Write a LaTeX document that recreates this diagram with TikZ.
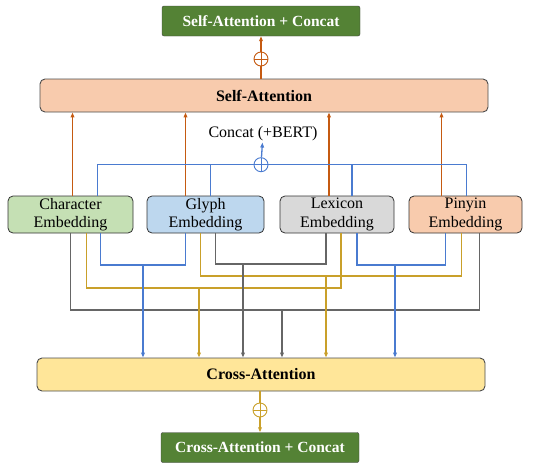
\documentclass[tikz,border=0pt]{standalone}
\usepackage{fontspec}
\setmainfont{Liberation Serif}
\usepackage{xcolor}
\usetikzlibrary{arrows.meta, positioning, calc}
\definecolor{saorange}{HTML}{C55A11}
\definecolor{cablue}{HTML}{4A7BD0}
\definecolor{cagold}{HTML}{C9A02A}
\definecolor{cagray}{HTML}{666666}
\definecolor{boxgreen}{HTML}{548235}
\definecolor{charbg}{HTML}{C5E0B4}
\definecolor{glyphbg}{HTML}{BDD7EE}
\definecolor{lexbg}{HTML}{D9D9D9}
\definecolor{pinbg}{HTML}{F8CBAD}
\definecolor{crossbg}{HTML}{FFE699}

\begin{document}
\begin{tikzpicture}[x=1pt, y=-1pt,
      font=\fontsize{16}{18.5}\selectfont,
      outbox/.style={draw=black!75, fill=boxgreen, rounded corners=2pt,
        minimum width=198pt, minimum height=30pt, inner sep=0pt,
        text=white, font=\fontsize{15.5}{18}\selectfont\bfseries},
      attbox/.style={draw=black!70, rounded corners=5pt, line width=0.9pt,
        minimum width=448pt, minimum height=33pt, inner sep=0pt,
        font=\fontsize{16}{18}\selectfont\bfseries},
      embbox/.style={draw=black!80, rounded corners=5pt, line width=0.8pt,
        minimum height=37pt, inner sep=0pt, align=center},
      oplus/.style={circle, draw, line width=0.9pt, minimum size=14pt, inner sep=0pt,
        path picture={\draw[line width=0.9pt]
          (path picture bounding box.north) -- (path picture bounding box.south)
          (path picture bounding box.west) -- (path picture bounding box.east);}},
      tip/.style={-{Triangle[length=5pt,width=3.6pt]}},
      saline/.style={saorange, line width=1.3pt},
      blline/.style={cablue, line width=1.3pt},
      goline/.style={cagold, line width=1.3pt},
      grline/.style={cagray, line width=1.3pt}
    ]
      \useasboundingbox (0,0) rectangle (545,463);
      % boxes
      \node[outbox] (satop) at (261,21) {Self-Attention + Concat};
      \node[attbox, fill=pinbg] (selfatt) at (264,95.5) {Self-Attention};
      \node[inner sep=1pt] (concat) at (263,134) {Concat (+BERT)};
      \node[embbox, fill=charbg, minimum width=125pt] (char) at (70.5,214.5) {Character\\Embedding};
      \node[embbox, fill=glyphbg, minimum width=117pt] (glyph) at (205.5,214.5) {Glyph\\Embedding};
      \node[embbox, fill=lexbg, minimum width=114pt] (lex) at (337,214.5) {Lexicon\\Embedding};
      \node[embbox, fill=pinbg, minimum width=113pt] (pin) at (465.5,214.5) {Pinyin\\Embedding};
      \node[attbox, fill=crossbg] (crossatt) at (261,374.5) {Cross-Attention};
      \node[outbox] (catop) at (260,447.5) {Cross-Attention + Concat};
      \node[oplus, saorange] (plusa) at (261,59) {};
      \node[oplus, cablue] (plusb) at (261,164.7) {};
      \node[oplus, cagold] (plusc) at (260,410) {};

      % self-attention side
      \draw[saline] (selfatt.north -| plusa) -- (plusa);
      \draw[saline, tip] (plusa) -- (satop);
      \foreach \n/\dx in {char/2, glyph/-20, lex/-8, pin/-24}
        \draw[saline, tip] ([xshift=\dx]\n.north) -- ([xshift=\dx]\n.north |- selfatt.south);
      \draw[blline] ([xshift=27]char.north) |- (plusb.west);
      \draw[blline] ([xshift=1]pin.north) |- (plusb.east);
      \draw[blline] ([xshift=5]glyph.north) -- ([xshift=5]glyph.north |- plusb);
      \draw[blline] ([xshift=15]lex.north) -- ([xshift=15]lex.north |- plusb);
      \draw[blline, tip] (plusb) -- (concat);

      % cross-attention side
      \coordinate (bl1) at (143,265);
      \coordinate (gr1) at (243,264);
      \coordinate (bl2) at (395,265);
      \coordinate (go1) at (326,276);
      \coordinate (go2) at (199,288);
      \coordinate (gr2) at (282,310);
      \draw[grline] (char.south) |- (gr2) -| ([xshift=14]pin.south);
      \draw[goline] ([xshift=16]char.south) |- (go2) -| ([xshift=4]lex.south);
      \draw[goline] ([xshift=-5]glyph.south) |- (go1) -| ([xshift=-4]pin.south);
      \draw[blline] ([xshift=30]char.south) |- (bl1) -| ([xshift=-20]glyph.south);
      \draw[grline] ([xshift=10]glyph.south) |- (gr1) -| ([xshift=-11]lex.south);
      \draw[blline] ([xshift=20]lex.south) |- (bl2) -| ([xshift=-20]pin.south);
      \draw[blline, tip] (bl1) -- (bl1 |- crossatt.north);
      \draw[goline, tip] (go2) -- (go2 |- crossatt.north);
      \draw[grline, tip] (gr1) -- (gr1 |- crossatt.north);
      \draw[grline, tip] (gr2) -- (gr2 |- crossatt.north);
      \draw[goline, tip] (go1) -- (go1 |- crossatt.north);
      \draw[blline, tip] (bl2) -- (bl2 |- crossatt.north);
      \draw[goline] (crossatt.south -| plusc) -- (plusc);
      \draw[goline, tip] (plusc) -- (catop);
    \end{tikzpicture}
\end{document}
